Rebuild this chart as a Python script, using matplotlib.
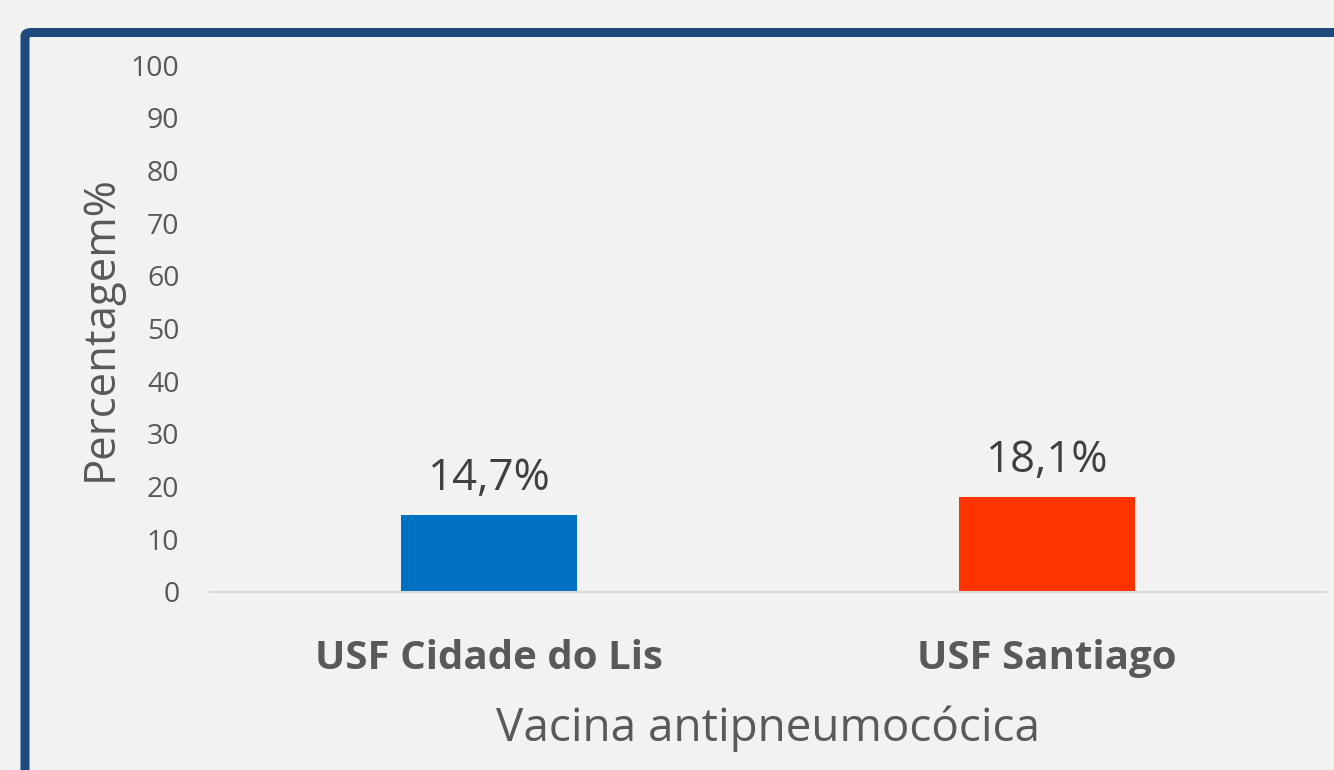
import numpy as np
from matplotlib import pyplot as plt
from matplotlib.patches import FancyBboxPatch

# dados
categorias = ["USF Cidade do Lis", "USF Santiago"]
percentagens = [14.7, 18.1]
rotulos = ["14,7%", "18,1%"]
cores = ["#0070c0", "#ff3300"]
yticks = list(range(0, 101, 10))

plt.rcParams['font.family'] = ['Open Sans', 'DejaVu Sans']

fig = plt.figure(figsize=(13.34, 7.7), dpi=100, facecolor="#f2f2f2")
ax = fig.add_axes([210/1334, 178/770, 1116/1334, 527/770])
ax.set_facecolor("#f2f2f2")

x = np.arange(len(categorias))
barras = ax.bar(x, percentagens, width=0.315, color=cores)

for b, txt in zip(barras, rotulos):
    ax.annotate(txt, (b.get_x() + b.get_width()/2, b.get_height()),
                xytext=(0, 10), textcoords="offset points",
                ha="center", va="bottom", fontsize=31.5, color="#404040")

ax.set_xlim(-0.5, 1.5)
ax.set_ylim(0, 100)
ax.set_yticks(yticks)
ax.set_xticks(x)
ax.set_xticklabels(categorias, fontsize=29, fontweight="bold", color="#595959")
ax.tick_params(axis="y", length=0, pad=22, labelsize=20.5, labelcolor="#595959")
ax.tick_params(axis="x", length=0, pad=34)

for s in ["top", "right", "left"]:
    ax.spines[s].set_visible(False)
ax.spines["bottom"].set_color("#d9d9d9")
ax.spines["bottom"].set_linewidth(1.5)

ax.set_xlabel("Vacina antipneumocócica", fontsize=33, color="#595959", labelpad=20)
ax.set_ylabel("Percentagem%", fontsize=31.5, color="#595959", labelpad=6)

# moldura azul
moldura = FancyBboxPatch((25/1334, -0.2), 1.3, 1.2 - 32.5/770,
                         boxstyle="round,pad=0,rounding_size=0.005",
                         transform=fig.transFigure, fill=False,
                         edgecolor="#1f4a7c", linewidth=6.5, clip_on=False)
fig.patches.append(moldura)

fig.savefig("out.png", dpi=100, facecolor=fig.get_facecolor())
